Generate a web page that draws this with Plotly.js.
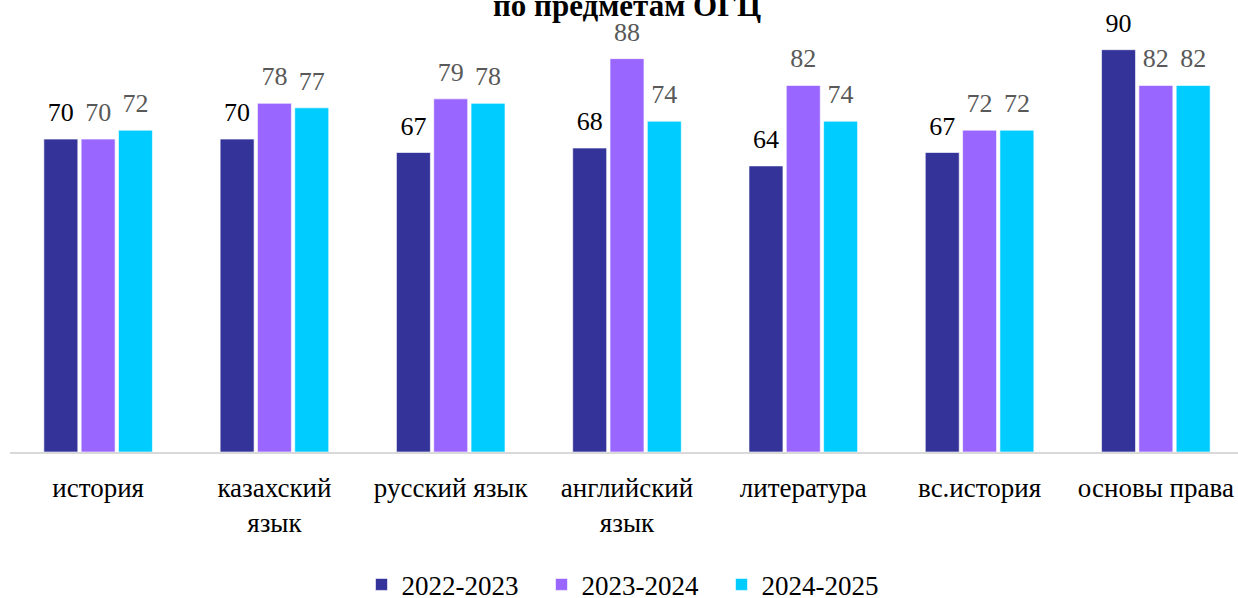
<!DOCTYPE html>
<html>
<head>
<meta charset="utf-8">
<script src="https://cdn.plot.ly/plotly-3.0.1.min.js"></script>
<style>html,body{margin:0;padding:0;background:#fff;}#chart{width:1238px;height:598px;}</style>
</head>
<body>
<div id="chart"></div>
<script>
const categories = ["история", "казахский<br>язык", "русский язык", "английский<br>язык", "литература", "вс.история", "основы права"];
const seriesNames = ["2022-2023", "2023-2024", "2024-2025"];
const v2022 = [70, 70, 67, 68, 64, 67, 90];
const v2023 = [70, 78, 79, 88, 82, 72, 82];
const v2024 = [72, 77, 78, 74, 74, 72, 82];
const colors = ["#333399", "#9966ff", "#00ccff"];
const labelColors = ["#000000", "#595959", "#595959"];
const values = [v2022, v2023, v2024];

const FONT = "Liberation Serif";

const traces = values.map((v, i) => ({
  type: "bar",
  name: seriesNames[i],
  x: categories,
  y: v,
  marker: {color: colors[i], line: {color: "rgba(255,255,255,0.6)", width: 1}},
  text: v.map(String),
  texttemplate: '<span style="font-size:26px">%{text}</span><br> ',
  textposition: "outside",
  constraintext: "none",
  cliponaxis: false,
  textfont: {family: FONT, size: 10, color: labelColors[i]},
  hoverinfo: "skip"
}));

const layout = {
  width: 1238, height: 598,
  margin: {l: 10, r: 0, t: 5, b: 146},
  paper_bgcolor: "#ffffff",
  plot_bgcolor: "#ffffff",
  barmode: "group",
  bargap: 0.365,
  bargroupgap: 0.09,
  font: {family: FONT, size: 27, color: "#000"},
  showlegend: true,
  legend: {orientation: "h", xref: "container", yref: "container", x: 0.292, xanchor: "left", y: 0.022, yanchor: "middle",
           entrywidth: 135, entrywidthmode: "pixels",
           font: {family: FONT, size: 27, color: "#000"}, itemwidth: 30, traceorder: "normal"},
  xaxis: {
    automargin: false,
    range: [-0.5, 6.466],
    showline: true, linecolor: "#d9d9d9", linewidth: 1.5,
    ticks: "", ticklabelstandoff: 11,
    tickfont: {family: FONT, size: 27, color: "#000"},
    showgrid: false, zeroline: false, fixedrange: true
  },
  yaxis: {
    automargin: false,
    range: [0, 100], visible: false, showgrid: false, zeroline: false, fixedrange: true
  },
  annotations: [{
    text: "<b>по предметам ОГЦ</b>",
    xref: "paper", yref: "paper", x: 0.5024, y: 1.0, xanchor: "center", yanchor: "middle",
    showarrow: false, font: {family: FONT, size: 31, color: "#000"}
  }]
};

Plotly.newPlot("chart", traces, layout, {displayModeBar: false, staticPlot: true});
</script>
</body>
</html>
